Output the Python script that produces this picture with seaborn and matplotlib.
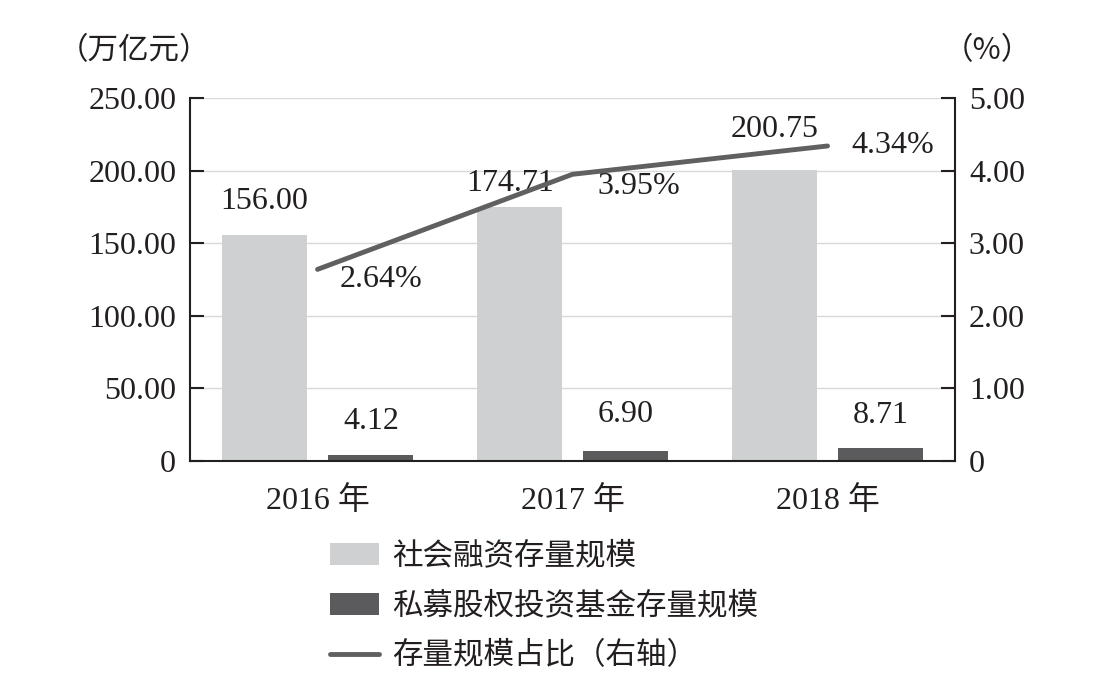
import numpy as np
import pandas as pd
import matplotlib
matplotlib.use("Agg")
import matplotlib.pyplot as plt
import seaborn as sns
from matplotlib.patches import Patch
from matplotlib.lines import Line2D

# 数据
years = ["2016 年", "2017 年", "2018 年"]
social_financing = [156.00, 174.71, 200.75]
private_equity = [4.12, 6.90, 8.71]
share_pct = [2.64, 3.95, 4.34]
series_names = ["社会融资存量规模", "私募股权投资基金存量规模", "存量规模占比（右轴）"]
left_ticks = [0, 50, 100, 150, 200, 250]
right_ticks = [0, 1, 2, 3, 4, 5]

sns.set_style("white")
FONT = ["Liberation Serif", "Noto Sans CJK SC", "DejaVu Sans"]
CJK_FIRST = ["Noto Sans CJK SC", "Liberation Serif"]
plt.rcParams["font.family"] = FONT
plt.rcParams["axes.unicode_minus"] = False

LIGHT = "#cfd0d2"
DARK = "#5b5b5d"
LINE = "#606060"
TXT = "#231f20"
FS = 23      # 数字
FS_CN = 22   # 中文

df = pd.DataFrame({
    "year": years * 2,
    "value": social_financing + private_equity,
    "series": [series_names[0]] * 3 + [series_names[1]] * 3,
})

fig = plt.figure(figsize=(11.01, 6.74), dpi=100)
ax = fig.add_axes([0.1726, 0.316, 0.6948, 0.5385])

sns.barplot(data=df, x="year", y="value", hue="series", ax=ax,
            palette=[LIGHT, DARK], width=0.836, gap=0.2, legend=False,
            saturation=1, linewidth=0)

ax.set_xlim(-0.5, 2.5)
ax.set_ylim(0, 250)
ax.set_yticks(left_ticks)
ax.set_yticklabels(["0"] + [f"{v:.2f}" for v in left_ticks[1:]])
ax.set_xlabel("")
ax.set_ylabel("")
ax.yaxis.grid(True, color="#d9d9d9", linewidth=1)
ax.set_axisbelow(True)
for s in ["top", "right"]:
    ax.spines[s].set_visible(False)
for s in ["left", "bottom"]:
    ax.spines[s].set_color(TXT)
    ax.spines[s].set_linewidth(1.5)
ax.tick_params(axis="y", direction="in", length=10, width=1.5, labelsize=FS,
               pad=10, colors=TXT, left=True)
ax.tick_params(axis="x", length=0, labelsize=FS, pad=18, colors=TXT)

ax2 = ax.twinx()
x_pos = np.arange(len(years))
sns.lineplot(x=x_pos, y=share_pct, ax=ax2, color=LINE, linewidth=3.5, legend=False)
ax2.set_ylim(0, 5)
ax2.set_yticks(right_ticks)
ax2.set_yticklabels(["0"] + [f"{v:.2f}" for v in right_ticks[1:]])
ax2.set_ylabel("")
ax2.set_xlim(-0.5, 2.5)
for s in ["top", "left", "bottom"]:
    ax2.spines[s].set_visible(False)
ax2.spines["right"].set_color(TXT)
ax2.spines["right"].set_linewidth(1.5)
ax2.tick_params(axis="y", direction="in", length=10, width=1.5, labelsize=FS,
                pad=10, colors=TXT, right=True)

# 数值标签
bar_off = 0.209
light_dx = [0, -0.035, 0]
light_dy = [24, 17, 29]
dark_dy = [24, 26, 24]
for i, v in enumerate(social_financing):
    ax.annotate(f"{v:.2f}", (i - bar_off + light_dx[i], v), xytext=(0, light_dy[i]),
                textcoords="offset points", ha="center", va="center",
                fontsize=FS, color=TXT)
for i, v in enumerate(private_equity):
    ax.annotate(f"{v:.2f}", (i + bar_off, v), xytext=(0, dark_dy[i]),
                textcoords="offset points", ha="center", va="center",
                fontsize=FS, color=TXT)
pct_off = [(16, -7), (18, -9), (17, 0)]
for i, v in enumerate(share_pct):
    ax2.annotate(f"{v:.2f}%", (i, v), xytext=pct_off[i],
                 textcoords="offset points", ha="left", va="center",
                 fontsize=FS, color=TXT)

# 轴标题
fig.text(0.052, 0.925, "（万亿元）", fontsize=FS_CN, color=TXT,
         ha="left", va="center", family=CJK_FIRST)
fig.text(0.856, 0.925, "（%）", fontsize=FS_CN, color=TXT,
         ha="left", va="center", family=CJK_FIRST)

handles = [Patch(facecolor=LIGHT, edgecolor="none"),
           Patch(facecolor=DARK, edgecolor="none"),
           Line2D([0], [0], color=LINE, linewidth=3.5)]
leg = fig.legend(handles, series_names, loc="upper left",
                 bbox_to_anchor=(0.289, 0.216), frameon=False,
                 prop={"family": CJK_FIRST, "size": FS_CN},
                 handlelength=1.6, handleheight=0.7, handletextpad=0.42,
                 labelspacing=0.62, borderaxespad=0)
for t in leg.get_texts():
    t.set_color(TXT)

fig.savefig("out.png", dpi=100)
